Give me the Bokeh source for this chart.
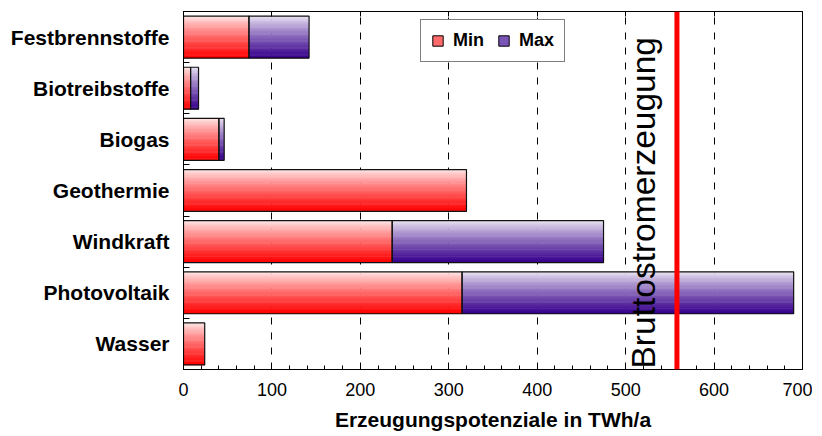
import numpy as np
from bokeh.plotting import figure
from bokeh.models import (ColumnDataSource, Range1d, FixedTicker, SingleIntervalTicker,
                          Span, Label, Legend, LegendItem, LinearAxis)
from bokeh.embed import file_html
from bokeh.resources import INLINE

# ---- data ----
categories = ["Festbrennstoffe", "Biotreibstoffe", "Biogas", "Geothermie",
              "Windkraft", "Photovoltaik", "Wasser"]
min_vals = [74, 8, 40, 320, 236, 315, 24]
max_vals = [142, 17, 46, 320, 475, 690, 24]
gross_generation = 558
x_ticks = [0, 100, 200, 300, 400, 500, 600, 700]
x_title = "Erzeugungspotenziale in TWh/a"
line_label = "Bruttostromerzeugung"
series_names = ["Min", "Max"]

FONT = "Liberation Sans"
n_cat = len(categories)
ypos = [n_cat - 1 - i for i in range(n_cat)]  # first category on top

p = figure(width=812, height=433, output_backend="svg", toolbar_location=None,
           x_range=Range1d(0, 700), y_range=Range1d(-0.5, n_cat - 0.5),
           min_border_left=183, min_border_right=10, min_border_top=11, min_border_bottom=60)
p.outline_line_color = "black"
p.outline_line_width = 1
p.background_fill_color = "white"
p.border_fill_color = "white"

# gradient strips
H = 0.82
N = 48
def lerp(c1, c2, t):
    a = np.array([int(c1[i:i+2], 16) for i in (1, 3, 5)], float)
    b = np.array([int(c2[i:i+2], 16) for i in (1, 3, 5)], float)
    c = a + (b - a) * t
    return "#%02x%02x%02x" % tuple(int(round(v)) for v in c)

def strips(lefts, rights, top_col, bot_col):
    ys, ls, rs, hs, cs = [], [], [], [], []
    for k in range(N):
        t = k / (N - 1)
        col = lerp(top_col, bot_col, t ** 0.85)
        off = H / 2 - (k + 0.5) * H / N
        for yc, l, r in zip(ypos, lefts, rights):
            if r - l <= 0:
                continue
            ys.append(yc + off); ls.append(l); rs.append(r)
            hs.append(H / N * 1.6); cs.append(col)
    return ColumnDataSource(dict(y=ys, left=ls, right=rs, h=hs, c=cs))

zeros = [0] * n_cat
src_min = strips(zeros, min_vals, "#ffeaea", "#ff0000")
src_max = strips(min_vals, max_vals, "#ece6f4", "#37008c")
p.hbar(y="y", left="left", right="right", height="h", source=src_min,
       fill_color="c", line_color=None)
p.hbar(y="y", left="left", right="right", height="h", source=src_max,
       fill_color="c", line_color=None)

# outlines
p.hbar(y=ypos, left=0, right=min_vals, height=H, fill_color=None,
       line_color="#111111", line_width=1.2)
seg_l = [m for m, M in zip(min_vals, max_vals) if M > m]
seg_r = [M for m, M in zip(min_vals, max_vals) if M > m]
seg_y = [y for y, m, M in zip(ypos, min_vals, max_vals) if M > m]
p.hbar(y=seg_y, left=seg_l, right=seg_r, height=H, fill_color=None,
       line_color="#111111", line_width=1.2)

# legend proxy renderers (zero-width, hidden under the axis line)
r_min = p.hbar(y=[ypos[0]], left=[0], right=[0], height=H, fill_color="#ff6a6a",
               line_color="black")
r_max = p.hbar(y=[ypos[0]], left=[0], right=[0], height=H, fill_color="#7a55b5",
               line_color="black")
legend = Legend(items=[LegendItem(label=series_names[0], renderers=[r_min]),
                       LegendItem(label=series_names[1], renderers=[r_max])],
                orientation="horizontal", location=(237, 307), margin=0,
                padding=10, spacing=13, label_standoff=9, glyph_width=13, glyph_height=13,
                label_height=17, border_line_color="black", border_line_width=1,
                label_text_font=FONT, label_text_font_style="bold", label_text_font_size="18px",
                label_text_color="black", background_fill_alpha=1)
p.add_layout(legend, "center")

# red reference line
p.add_layout(Span(location=gross_generation, dimension="height", line_color="#ff0000",
                  line_width=5))
p.add_layout(Label(x=gross_generation, y=0, x_units="data", y_units="screen",
                   x_offset=-33, y_offset=1, angle=np.pi / 2, text=line_label,
                   text_font=FONT, text_font_size="33.5px", text_color="black",
                   text_align="left", text_baseline="alphabetic"))

# axes
xa = p.xaxis[0]
xa.ticker = SingleIntervalTicker(interval=100, num_minor_ticks=5)
xa.axis_label = x_title
xa.axis_label_text_font = FONT
xa.axis_label_text_font_style = "bold"
xa.axis_label_text_font_size = "21px"
xa.axis_label_text_color = "black"
xa.axis_label_standoff = 9
xa.major_label_text_font = FONT
xa.major_label_text_font_size = "18px"
xa.major_label_text_color = "black"
xa.major_label_standoff = 13
xa.major_tick_in = 6
xa.major_tick_out = 0
xa.minor_tick_in = 4
xa.minor_tick_out = 0
xa.axis_line_color = "black"
xa.major_tick_line_color = "black"
xa.minor_tick_line_color = "black"

top = LinearAxis(ticker=SingleIntervalTicker(interval=100, num_minor_ticks=0),
                 major_label_overrides={t: "" for t in x_ticks}, major_label_standoff=0,
                 major_tick_in=5, major_tick_out=0, minor_tick_line_color=None,
                 axis_line_color="black", major_tick_line_color="black")
p.add_layout(top, "above")

ya = p.yaxis[0]
ya.ticker = FixedTicker(ticks=ypos, minor_ticks=[y + 0.5 for y in range(-1, n_cat)])
ya.major_label_overrides = {y: c for y, c in zip(ypos, categories)}
ya.major_label_text_font = FONT
ya.major_label_text_font_style = "bold"
ya.major_label_text_font_size = "21px"
ya.major_label_text_color = "black"
ya.major_label_standoff = 8
ya.major_tick_line_color = None
ya.minor_tick_in = 6
ya.minor_tick_out = 0
ya.minor_tick_line_color = "black"
ya.axis_line_color = "black"

p.ygrid.grid_line_color = None
p.xgrid.ticker = FixedTicker(ticks=x_ticks[1:-1])
p.xgrid.grid_line_color = "#000000"
p.xgrid.grid_line_dash = "7 8"
p.xgrid.grid_line_width = 1

open("out.html", "w").write(file_html(p, INLINE))
